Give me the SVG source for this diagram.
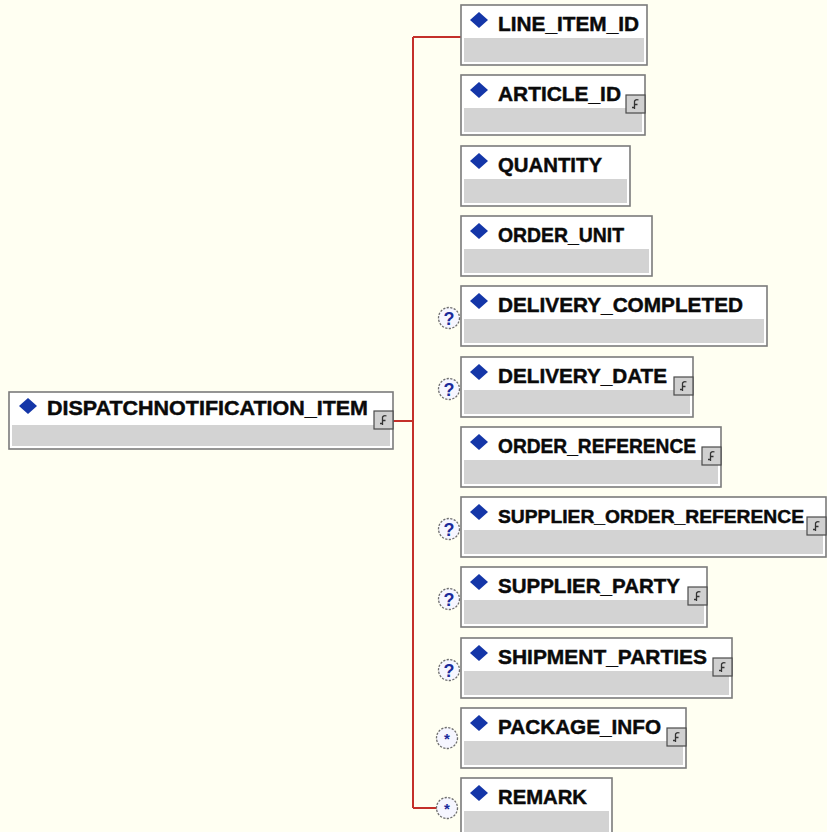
<svg xmlns="http://www.w3.org/2000/svg" xmlns:xlink="http://www.w3.org/1999/xlink" width="827" height="832" viewBox="0 0 827 832">
<style>
.bg{fill:#fffff2}
.box{fill:#ffffff;stroke:#7b7b7b;stroke-width:1.6}
.band{fill:#d3d3d3}
.lbl{font-family:"Liberation Sans",Arial,sans-serif;font-weight:bold;font-size:21px;fill:#0a0a0a;stroke:#0a0a0a;stroke-width:0.45}
.conn{stroke:#c4302a;stroke-width:2;fill:none}
.badge{fill:#f6f6ff;stroke:#6e6e6e;stroke-width:1.3;stroke-dasharray:2.2 1.4}
.bq{font-family:"Liberation Sans",Arial,sans-serif;font-weight:bold;font-size:18px;fill:#1a2a9a;text-anchor:middle}
.bs{font-family:"Liberation Sans",Arial,sans-serif;font-weight:bold;font-size:15px;fill:#1a2a9a;text-anchor:middle}
</style>
<defs>
<path id="dia" d="M0,-8 L9,0 L0,8 L-9,0Z" fill="#1436a8"/>
<g id="ct">
<rect x="0" y="0" width="19" height="18" fill="#d0d0d0" stroke="#4a4a4a" stroke-width="1.2"/>
<path d="M12.5,5 C10,4 8,5.5 8.5,7.5 L8.5,14 M8.5,9.5 L11.5,9.5 M6,12.5 L8.5,12.5" fill="none" stroke="#333333" stroke-width="1.3"/>
</g>
<circle id="bd" r="10.5" class="badge"/>
</defs>
<rect class="bg" x="0" y="0" width="827" height="832"/>

<g id="connectors">
<path class="conn" d="M393,421 H413 M413,37 V808 M413,37 H461 M413,808 H437"/>
</g>

<g id="DISPATCHNOTIFICATION_ITEM">
<rect class="box" x="9" y="392" width="384" height="57"/>
<rect class="band" x="12" y="425" width="378" height="21"/>
<use xlink:href="#dia" x="28" y="406"/>
<text class="lbl" x="47" y="415" textLength="321" lengthAdjust="spacingAndGlyphs">DISPATCHNOTIFICATION_ITEM</text>
<use xlink:href="#ct" x="374" y="411"/>
</g>

<g id="LINE_ITEM_ID" transform="translate(461,5)">
<rect class="box" x="0" y="0" width="186" height="60"/>
<rect class="band" x="3" y="33" width="180" height="24"/>
<use xlink:href="#dia" x="18" y="15"/>
<text class="lbl" x="37" y="26" textLength="141" lengthAdjust="spacingAndGlyphs">LINE_ITEM_ID</text>
</g>

<g id="ARTICLE_ID" transform="translate(461,75)">
<rect class="box" x="0" y="0" width="184" height="60"/>
<rect class="band" x="3" y="33" width="178" height="24"/>
<use xlink:href="#dia" x="18" y="15"/>
<text class="lbl" x="37" y="26" textLength="123" lengthAdjust="spacingAndGlyphs">ARTICLE_ID</text>
<use xlink:href="#ct" x="165" y="20"/>
</g>

<g id="QUANTITY" transform="translate(461,146)">
<rect class="box" x="0" y="0" width="169" height="60"/>
<rect class="band" x="3" y="33" width="163" height="24"/>
<use xlink:href="#dia" x="18" y="15"/>
<text class="lbl" x="37" y="26" textLength="104" lengthAdjust="spacingAndGlyphs">QUANTITY</text>
</g>

<g id="ORDER_UNIT" transform="translate(461,216)">
<rect class="box" x="0" y="0" width="191" height="60"/>
<rect class="band" x="3" y="33" width="185" height="24"/>
<use xlink:href="#dia" x="18" y="15"/>
<text class="lbl" x="37" y="26" textLength="126" lengthAdjust="spacingAndGlyphs">ORDER_UNIT</text>
</g>

<g id="DELIVERY_COMPLETED" transform="translate(461,286)">
<use xlink:href="#bd" x="-12" y="32"/>
<text class="bq" x="-12" y="38.5">?</text>
<rect class="box" x="0" y="0" width="306" height="60"/>
<rect class="band" x="3" y="33" width="300" height="24"/>
<use xlink:href="#dia" x="18" y="15"/>
<text class="lbl" x="37" y="26" textLength="245" lengthAdjust="spacingAndGlyphs">DELIVERY_COMPLETED</text>
</g>

<g id="DELIVERY_DATE" transform="translate(461,357)">
<use xlink:href="#bd" x="-12" y="32"/>
<text class="bq" x="-12" y="38.5">?</text>
<rect class="box" x="0" y="0" width="232" height="60"/>
<rect class="band" x="3" y="33" width="226" height="24"/>
<use xlink:href="#dia" x="18" y="15"/>
<text class="lbl" x="37" y="26" textLength="169" lengthAdjust="spacingAndGlyphs">DELIVERY_DATE</text>
<use xlink:href="#ct" x="213" y="20"/>
</g>

<g id="ORDER_REFERENCE" transform="translate(461,427)">
<rect class="box" x="0" y="0" width="260" height="60"/>
<rect class="band" x="3" y="33" width="254" height="24"/>
<use xlink:href="#dia" x="18" y="15"/>
<text class="lbl" x="37" y="26" textLength="198" lengthAdjust="spacingAndGlyphs">ORDER_REFERENCE</text>
<use xlink:href="#ct" x="241" y="20"/>
</g>

<g id="SUPPLIER_ORDER_REFERENCE" transform="translate(461,497)">
<use xlink:href="#bd" x="-12" y="32"/>
<text class="bq" x="-12" y="38.5">?</text>
<rect class="box" x="0" y="0" width="365" height="60"/>
<rect class="band" x="3" y="33" width="359" height="24"/>
<use xlink:href="#dia" x="18" y="15"/>
<text class="lbl" x="37" y="26" style="font-size:18.5px" textLength="306" lengthAdjust="spacingAndGlyphs">SUPPLIER_ORDER_REFERENCE</text>
<use xlink:href="#ct" x="346" y="20"/>
</g>

<g id="SUPPLIER_PARTY" transform="translate(461,567)">
<use xlink:href="#bd" x="-12" y="32"/>
<text class="bq" x="-12" y="38.5">?</text>
<rect class="box" x="0" y="0" width="246" height="60"/>
<rect class="band" x="3" y="33" width="240" height="24"/>
<use xlink:href="#dia" x="18" y="15"/>
<text class="lbl" x="37" y="26" textLength="182" lengthAdjust="spacingAndGlyphs">SUPPLIER_PARTY</text>
<use xlink:href="#ct" x="227" y="20"/>
</g>

<g id="SHIPMENT_PARTIES" transform="translate(461,638)">
<use xlink:href="#bd" x="-12" y="32"/>
<text class="bq" x="-12" y="38.5">?</text>
<rect class="box" x="0" y="0" width="271" height="60"/>
<rect class="band" x="3" y="33" width="265" height="24"/>
<use xlink:href="#dia" x="18" y="15"/>
<text class="lbl" x="37" y="26" textLength="209" lengthAdjust="spacingAndGlyphs">SHIPMENT_PARTIES</text>
<use xlink:href="#ct" x="252" y="20"/>
</g>

<g id="PACKAGE_INFO" transform="translate(461,708)">
<use xlink:href="#bd" x="-14" y="30"/>
<text class="bs" x="-14" y="36">*</text>
<rect class="box" x="0" y="0" width="225" height="60"/>
<rect class="band" x="3" y="33" width="219" height="24"/>
<use xlink:href="#dia" x="18" y="15"/>
<text class="lbl" x="37" y="26" textLength="163" lengthAdjust="spacingAndGlyphs">PACKAGE_INFO</text>
<use xlink:href="#ct" x="206" y="20"/>
</g>

<g id="REMARK" transform="translate(461,778)">
<use xlink:href="#bd" x="-14" y="30"/>
<text class="bs" x="-14" y="36">*</text>
<rect class="box" x="0" y="0" width="151" height="60"/>
<rect class="band" x="3" y="33" width="145" height="24"/>
<use xlink:href="#dia" x="18" y="15"/>
<text class="lbl" x="37" y="26" textLength="89" lengthAdjust="spacingAndGlyphs">REMARK</text>
</g>
</svg>
